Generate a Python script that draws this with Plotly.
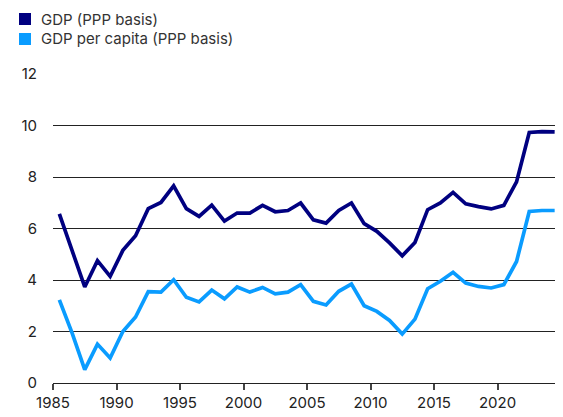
import plotly.graph_objects as go

years = list(range(1985, 2025))
gdp = [6.57, 5.2, 3.73, 4.75, 4.14, 5.15, 5.72, 6.77, 7.01, 7.66,
       6.77, 6.47, 6.91, 6.29, 6.60, 6.60, 6.90, 6.65, 6.70, 6.99,
       6.34, 6.21, 6.70, 6.99, 6.19, 5.89, 5.44, 4.94, 5.46, 6.73,
       6.99, 7.40, 6.96, 6.85, 6.76, 6.90, 7.81, 9.73, 9.76, 9.75]
gdp_pc = [3.23, 1.95, 0.52, 1.51, 0.97, 2.00, 2.56, 3.55, 3.53, 4.01,
          3.33, 3.15, 3.61, 3.27, 3.73, 3.53, 3.71, 3.46, 3.53, 3.82,
          3.17, 3.03, 3.56, 3.84, 3.00, 2.78, 2.43, 1.90, 2.48, 3.66,
          3.95, 4.30, 3.88, 3.75, 3.69, 3.82, 4.72, 6.66, 6.70, 6.70]
names = ["GDP (PPP basis)", "GDP per capita (PPP basis)"]
colors = ["#000080", "#0A9CFF"]
x_ticks = [1985, 1990, 1995, 2000, 2005, 2010, 2015, 2020, 2025]
x_labels = ["1985", "1990", "1995", "2000", "2005", "2010", "2015", "2020", ""]
y_ticks = [0, 2, 4, 6, 8, 10, 12]

# figure is rendered with an 8px page offset; geometry below accounts for it
W, H = 555, 409
L, R, T, B = 45, 2, 66, 34
pw, ph = W - L - R, H - T - B


def px(fx):
    return (fx - L) / pw


def py(fy):
    return (H - B - fy) / ph


xs = [y + 0.5 for y in years]
fig = go.Figure()
for vals, name, c in zip([gdp, gdp_pc], names, colors):
    fig.add_trace(go.Scatter(x=xs, y=vals, mode="lines", name=name,
                             line=dict(color=c, width=3.7),
                             showlegend=False, hoverinfo="skip"))

# legend drawn as squares + labels
rows = [(5, 17, 11), (25, 37, 31)]
for (top, bot, mid), name, c in zip(rows, names, colors):
    fig.add_shape(type="rect", xref="paper", yref="paper",
                  x0=px(11), x1=px(23), y0=py(bot), y1=py(top),
                  fillcolor=c, line=dict(width=0))
    fig.add_annotation(xref="paper", yref="paper", x=px(31), y=py(mid),
                       xanchor="left", yanchor="middle", text=name, showarrow=False,
                       font=dict(size=15, color="#333"))

fig.update_layout(
    width=W, height=H,
    margin=dict(l=L, r=R, t=T, b=B, autoexpand=False),
    paper_bgcolor="white", plot_bgcolor="white",
    font=dict(family="Inter, sans-serif", size=14, color="#222"),
    showlegend=False,
    xaxis=dict(range=[1985, 2025], tickvals=x_ticks, ticktext=x_labels, tickangle=0,
               showgrid=False, zeroline=False, showline=True, linecolor="#222", linewidth=1,
               ticks="outside", ticklen=6, tickcolor="#444", tickwidth=1.5,
               tickfont=dict(size=15, color="#222")),
    yaxis=dict(range=[0, 12], tickvals=y_ticks, showgrid=True, gridcolor="#222", gridwidth=1,
               zeroline=False, showline=False, ticks="", ticklabelstandoff=15,
               tickfont=dict(size=15, color="#222")),
)
fig.write_html("out.html")
